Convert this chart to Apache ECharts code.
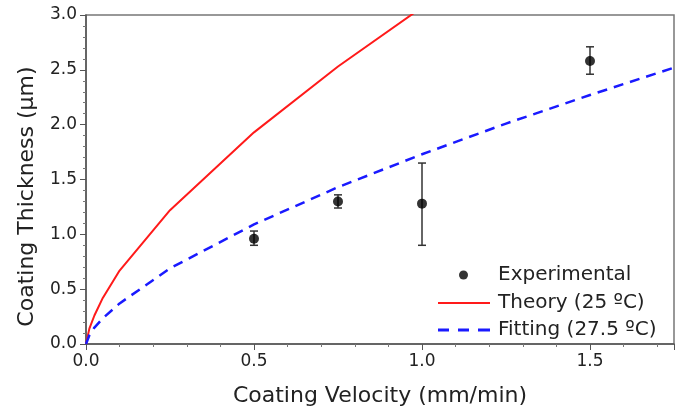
<!DOCTYPE html>
<html>
<head>
<meta charset="utf-8">
<script src="https://cdn.jsdelivr.net/npm/echarts@6/dist/echarts.min.js"></script>
</head>
<body style="margin:0;background:#fff;">
<div id="main" style="width:684px;height:411px;"></div>
<script type="text/javascript">
    // measured points (value, lower, upper)
    var expX = [0.5, 0.75, 1.0, 1.5];
    var expY = [0.96, 1.30, 1.28, 2.58];
    var errLow = [0.90, 1.24, 0.90, 2.46];
    var errHigh = [1.03, 1.36, 1.65, 2.71];

    // theory curve 25 oC
    var theoryX = [0, 0.01, 0.025, 0.05, 0.1, 0.25, 0.5, 0.75, 1.0];
    var theoryY = [0, 0.14, 0.26, 0.42, 0.67, 1.22, 1.93, 2.53, 3.07];

    // fitting curve 27.5 oC
    var fitX = [0, 0.01, 0.025, 0.05, 0.1, 0.25, 0.5, 0.75, 1.0, 1.25, 1.5, 1.75];
    var fitY = [0, 0.08, 0.15, 0.235, 0.37, 0.69, 1.09, 1.43, 1.73, 2.01, 2.27, 2.52];

    function pairs(xs, ys) {
        return xs.map(function (x, i) { return [x, ys[i]]; });
    }

    var errData = expX.map(function (x, i) { return [x, errLow[i], errHigh[i]]; });

    var font = 'DejaVu Sans';
    var txt = { fontSize: 20, lineHeight: 20, color: '#222', fontFamily: font };
    var myChart = echarts.init(document.getElementById('main'));

    var option = {
        animation: false,
        textStyle: { fontFamily: font },
        grid: {
            left: 86, right: 10, top: 15, bottom: 67,
            outerBoundsMode: 'none',
            show: true, borderColor: '#777', borderWidth: 1.5
        },
        legend: [
            {
                data: [{ name: 'Experimental', icon: 'circle' }],
                left: 459, top: 265, padding: 0,
                itemWidth: 9, itemHeight: 9,
                textStyle: Object.assign({ padding: [0, 0, 0, 25] }, txt)
            },
            {
                data: [{ name: 'Theory (25 ºC)', icon: 'path://M0,0H52V2H0Z' }],
                left: 438, top: 293, padding: 0,
                itemWidth: 52, itemHeight: 2,
                textStyle: Object.assign({ padding: [0, 0, 0, 3] }, txt)
            },
            {
                data: [{ name: 'Fitting (27.5 ºC)', icon: 'path://M0,0H11V3H0Z M20,0H31V3H20Z M40,0H52V3H40Z' }],
                left: 438, top: 320, padding: 0,
                itemWidth: 52, itemHeight: 3,
                textStyle: Object.assign({ padding: [0, 0, 0, 3] }, txt)
            }
        ],
        xAxis: {
            type: 'value',
            min: 0, max: 1.75, interval: 0.5,
            name: 'Coating Velocity (mm/min)',
            nameLocation: 'middle', nameGap: 41,
            nameTextStyle: { fontSize: 22, color: '#222', fontFamily: font },
            axisLine: { lineStyle: { color: '#555', width: 1.5 } },
            axisTick: { length: 6, lineStyle: { color: '#555' } },
            minorTick: { show: true, splitNumber: 5, length: 3, lineStyle: { color: '#777' } },
            splitLine: { show: false },
            axisLabel: {
                fontSize: 17, color: '#222', margin: 9, showMaxLabel: false,
                formatter: function (v) { return v.toFixed(1); }
            }
        },
        yAxis: {
            type: 'value',
            min: 0, max: 3, interval: 0.5,
            name: 'Coating Thickness (µm)',
            nameLocation: 'middle', nameGap: 48,
            nameTextStyle: { fontSize: 22, color: '#222', fontFamily: font, padding: [0, 34, 0, 0] },
            axisLine: { show: true, lineStyle: { color: '#555', width: 1.5 } },
            axisTick: { show: true, length: 6, lineStyle: { color: '#555' } },
            minorTick: { show: true, splitNumber: 5, length: 3, lineStyle: { color: '#777' } },
            splitLine: { show: false },
            axisLabel: {
                fontSize: 17, color: '#222', margin: 9,
                formatter: function (v) { return v.toFixed(1); }
            }
        },
        series: [
            {
                name: 'Theory (25 ºC)',
                type: 'line',
                symbol: 'none',
                clip: true,
                data: pairs(theoryX, theoryY),
                lineStyle: { color: '#ff1a1a', width: 2 },
                itemStyle: { color: '#ff1a1a' }
            },
            {
                name: 'Fitting (27.5 ºC)',
                type: 'line',
                symbol: 'none',
                clip: true,
                data: pairs(fitX, fitY),
                lineStyle: { color: '#1a1aff', width: 2.5, type: [10, 7] },
                itemStyle: { color: '#1a1aff' }
            },
            {
                name: 'errorbar',
                type: 'custom',
                data: errData,
                renderItem: function (params, api) {
                    var x = api.value(0);
                    var lo = api.coord([x, api.value(1)]);
                    var hi = api.coord([x, api.value(2)]);
                    var w = 4;
                    var st = { stroke: '#333', lineWidth: 1.5 };
                    return {
                        type: 'group',
                        children: [
                            { type: 'line', shape: { x1: lo[0], y1: lo[1], x2: hi[0], y2: hi[1] }, style: st },
                            { type: 'line', shape: { x1: lo[0] - w, y1: lo[1], x2: lo[0] + w, y2: lo[1] }, style: st },
                            { type: 'line', shape: { x1: hi[0] - w, y1: hi[1], x2: hi[0] + w, y2: hi[1] }, style: st }
                        ]
                    };
                },
                z: 3
            },
            {
                name: 'Experimental',
                type: 'scatter',
                symbol: 'circle',
                symbolSize: 10,
                data: pairs(expX, expY),
                itemStyle: { color: '#000' },
                z: 4
            }
        ]
    };
    myChart.setOption(option);
</script>
</body>
</html>
